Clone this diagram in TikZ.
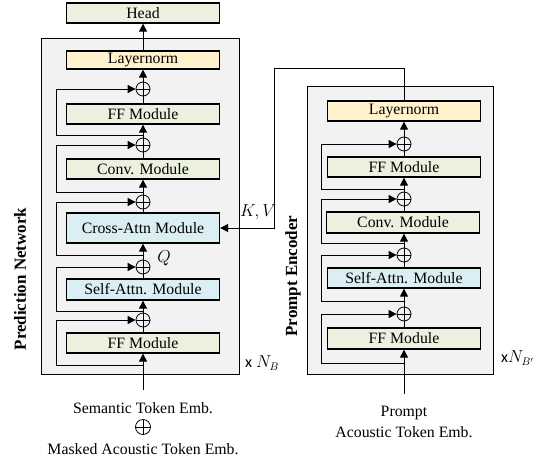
\documentclass[tikz,border=0pt]{standalone}
\usepackage{fontspec}
\setmainfont{Liberation Serif}
\newfontfamily\xfont{Carlito}
\usetikzlibrary{arrows.meta,calc}
\definecolor{boxgreen}{HTML}{EBF1DE}
\definecolor{boxyellow}{HTML}{FFF2CC}
\definecolor{boxblue}{HTML}{DBEEF4}
\definecolor{outerfill}{HTML}{F2F2F2}
\newcommand{\fsmain}{\fontsize{15.8}{18}\selectfont}
\newcommand{\fsbold}{\fontsize{17}{20}\selectfont\bfseries}
\newcommand{\fsmath}{\fontsize{16}{19}\selectfont}
\tikzset{
  blk/.style={draw, line width=1.3pt, minimum width=153pt, minimum height=20pt, inner sep=0pt, font=\fsmain},
  gbox/.style={blk, fill=boxgreen},
  ybox/.style={blk, fill=boxyellow},
  bbox/.style={blk, fill=boxblue},
  outerbox/.style={draw, fill=outerfill, line width=0.9pt},
  addnode/.style={circle, draw, line width=0.8pt, minimum size=14pt, inner sep=0pt,
    path picture={\draw[line width=0.8pt] (path picture bounding box.north) -- (path picture bounding box.south)
      (path picture bounding box.west) -- (path picture bounding box.east);}},
  arr/.style={line width=1pt, -{Triangle[length=8pt,width=8pt]}},
  ln/.style={line width=1pt},
  lbl/.style={font=\fsmain, inner sep=0pt},
  mlbl/.style={font=\fsmath, inner sep=0pt},
  vlbl/.style={font=\fsbold, rotate=90, inner sep=0pt}
}
\begin{document}
\begin{tikzpicture}[x=1pt,y=-1pt]
\useasboundingbox (0,0) rectangle (546,461);
% outer boxes
\draw[outerbox] (41,38) rectangle (239,374);
\draw[outerbox] (307,86) rectangle (493,374);
% ---------- prediction network ----------
\node[gbox] (head) at (143,13) {Head};
\node[ybox, minimum height=18pt] (ln1) at (143,60) {Layernorm};
\node[addnode] (p1) at (143,89) {};
\node[gbox] (ff1) at (143,114) {FF Module};
\node[addnode] (p2) at (143,145) {};
\node[gbox] (conv1) at (143,169) {Conv. Module};
\node[addnode] (p3) at (143,202) {};
\node[bbox, minimum height=30pt] (cross) at (143,228) {Cross-Attn Module};
\node[addnode] (p4) at (143,267) {};
\node[bbox, minimum height=21pt] (sa1) at (143,289.5) {Self-Attn. Module};
\node[addnode] (p5) at (143,320) {};
\node[gbox] (ff2) at (143,343) {FF Module};
\coordinate (in1) at (143,390);
\coordinate (b1) at (143,135);
\coordinate (b2) at (143,192);
\coordinate (b3) at (143,255);
\coordinate (b4) at (143,311);
\coordinate (b5) at (143,365);
% main line
\draw[arr] (in1) -- (ff2.south);
\draw[ln] (ff2.north) -- (p5.south);
\draw[arr] (p5.north) -- (sa1.south);
\draw[ln] (sa1.north) -- (p4.south);
\draw[arr] (p4.north) -- (cross.south);
\draw[ln] (cross.north) -- (p3.south);
\draw[arr] (p3.north) -- (conv1.south);
\draw[ln] (conv1.north) -- (p2.south);
\draw[arr] (p2.north) -- (ff1.south);
\draw[ln] (ff1.north) -- (p1.south);
\draw[arr] (p1.north) -- (ln1.south);
\draw[arr] (ln1.north) -- (head.south);
% residuals
\draw[arr] (b1) -- ++(-87,0) |- (p1.west);
\draw[arr] (b2) -- ++(-87,0) |- (p2.west);
\draw[arr] (b3) -- ++(-87,0) |- (p3.west);
\draw[arr] (b4) -- ++(-87,0) |- (p4.west);
\draw[arr] (b5) -- ++(-87,0) |- (p5.west);
% labels
\node[mlbl] (q) at (164,258) {$Q$};
\node[mlbl] (kv) at (258,212) {$K,V$};
\node[mlbl, anchor=west] (nb) at (245,363) {{\xfont x} $N_B$};
\node[vlbl] (predlbl) at (20,279) {Prediction Network};
\node[lbl] (sem) at (143,408) {Semantic Token Emb.};
\node[addnode, minimum size=15pt] (semadd) at (143,427) {};
\node[lbl] (mask) at (143,449) {Masked Acoustic Token Emb.};
% ---------- prompt encoder ----------
\node[ybox] (ln2) at (404,111) {Layernorm};
\node[addnode] (q1) at (404,144) {};
\node[gbox] (ff3) at (404,167) {FF Module};
\node[addnode] (q2) at (404,199) {};
\node[gbox, minimum height=21pt] (conv2) at (403,222.5) {Conv. Module};
\node[addnode] (q3) at (404,255) {};
\node[bbox] (sa2) at (404,278) {Self-Attn. Module};
\node[addnode] (q4) at (404,314) {};
\node[gbox, minimum height=21pt] (ff4) at (404,338.5) {FF Module};
\coordinate (in2) at (404,394);
\coordinate (c1) at (404,189);
\coordinate (c2) at (404,243);
\coordinate (c3) at (404,301);
\coordinate (c4) at (404,363);
\draw[arr] (in2) -- (ff4.south);
\draw[ln] (ff4.north) -- (q4.south);
\draw[arr] (q4.north) -- (sa2.south);
\draw[ln] (sa2.north) -- (q3.south);
\draw[arr] (q3.north) -- (conv2.south -| q3.north);
\draw[ln] (conv2.north -| q2.south) -- (q2.south);
\draw[arr] (q2.north) -- (ff3.south);
\draw[ln] (ff3.north) -- (q1.south);
\draw[arr] (q1.north) -- (ln2.south);
\draw[arr] (c1) -- ++(-83,0) |- (q1.west);
\draw[arr] (c2) -- ++(-83,0) |- (q2.west);
\draw[arr] (c3) -- ++(-83,0) |- (q3.west);
\draw[arr] (c4) -- ++(-83,0) |- (q4.west);
% K,V connector
\coordinate (kvc) at (274,68);
\draw[arr] (ln2.north) |- (kvc) |- (cross.east);
\node[mlbl, anchor=west] (nb2) at (501,358) {{\xfont x}$N_{B'}$};
\node[vlbl] (promptlbl) at (293,276) {Prompt Encoder};
\node[lbl] (pr) at (404,413) {Prompt};
\node[lbl] (ac) at (404,432) {Acoustic Token Emb.};
\end{tikzpicture}
\end{document}
